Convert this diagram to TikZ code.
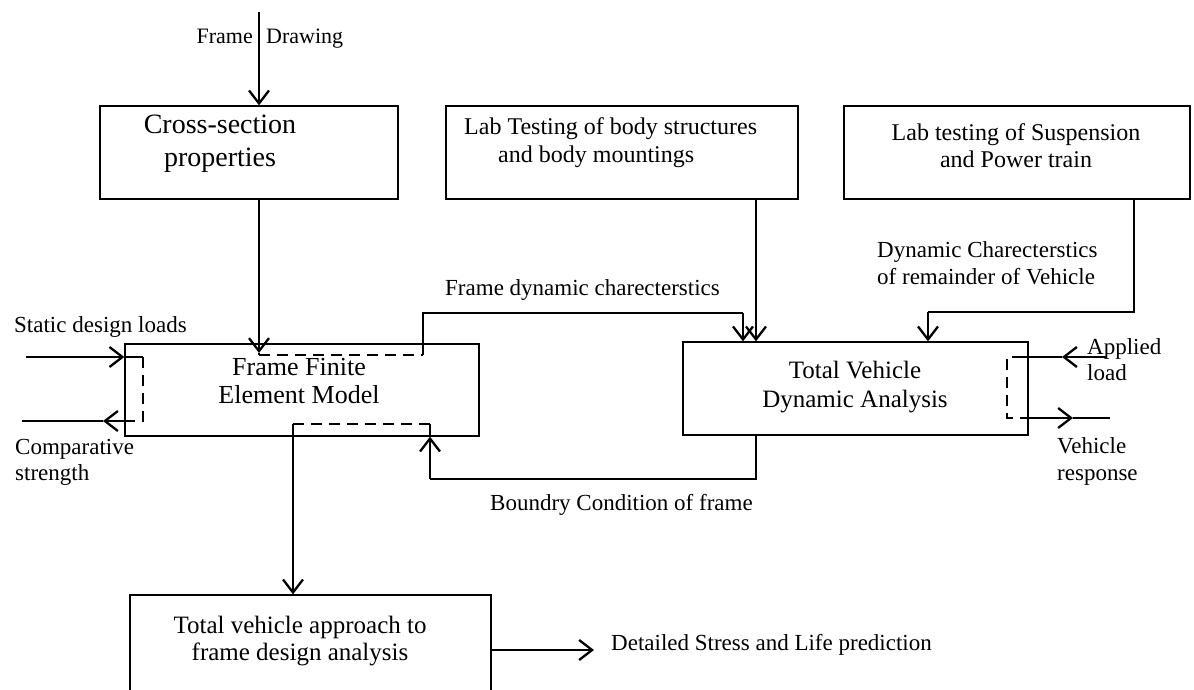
\documentclass[tikz,border=0pt]{standalone}
\usepackage{fontspec}
\setmainfont{Liberation Serif}
\usetikzlibrary{arrows.meta}
\begin{document}
\begin{tikzpicture}[x=1pt,y=-1pt,
  box/.style={draw, line width=1.3pt, inner sep=0pt},
  conn/.style={line width=2.3pt},
  dashconn/.style={line width=2.3pt, dash pattern=on 11pt off 7pt},
  arr/.style={conn,-{Straight Barb[length=13pt,width=20pt]}},
  txt/.style={inner sep=0pt, align=center},
  lbl/.style={inner sep=0pt, align=left, anchor=west, font=\fontsize{23}{26}\selectfont}]
\useasboundingbox (0,0) rectangle (1194,690);

% boxes
\node[box, minimum width=298pt, minimum height=93pt] (cs)  at (249,152.5) {};
\node[box, minimum width=352pt, minimum height=93pt] (lab) at (622,152.5) {};
\node[box, minimum width=346pt, minimum height=93pt] (sus) at (1017,152.5) {};
\node[box, minimum width=354pt, minimum height=92pt] (fe)  at (302,390) {};
\node[box, minimum width=345pt, minimum height=93pt] (tv)  at (855.5,388.5) {};
\node[box, minimum width=361pt, minimum height=110pt] (out) at (310.5,650) {};

% box texts
\node[txt, font=\fontsize{28}{33}\selectfont] (cstext) at (220,144) {Cross-section\\properties};
\node[txt, anchor=west, align=left, font=\fontsize{24}{28}\selectfont] (labtext) at (464,143)
  {Lab Testing of body structures\\\hspace*{34pt}and body mountings};
\node[txt, font=\fontsize{24}{27}\selectfont] (sustext) at (1016,146) {Lab testing of Suspension\\and Power train};
\node[txt, font=\fontsize{26}{28}\selectfont] (fetext) at (299,381) {Frame Finite\\Element Model};
\node[txt, font=\fontsize{25}{29}\selectfont] (tvtext) at (855,387.5) {Total Vehicle\\Dynamic Analysis};
\node[txt, font=\fontsize{25}{27}\selectfont] (outtext) at (300,641.5) {Total vehicle approach to\\frame design analysis};

% free labels
\node[lbl, anchor=base east, font=\fontsize{22}{26}\selectfont] (fdl) at (253,44) {Frame};
\node[lbl, anchor=base west, font=\fontsize{22}{26}\selectfont] (fdr) at (266,44) {Drawing};
\node[lbl] (sdl) at (14,327) {Static design loads};
\node[lbl] (cmp) at (15,462.5) {Comparative\\strength};
\node[lbl] (apl) at (1087,360) {Applied\\load};
\node[lbl, font=\fontsize{23}{27}\selectfont] (vrs) at (1057,461.5) {Vehicle\\response};
\node[lbl, font=\fontsize{23}{27}\selectfont] (dcr) at (877,263.5) {Dynamic Charecterstics\\of remainder of Vehicle};
\node[lbl] (fdc) at (445,290) {Frame dynamic charecterstics};
\node[lbl] (bcf) at (490,505) {Boundry Condition of frame};
\node[lbl] (dsl) at (611,645) {Detailed Stress and Life prediction};

% junction points
\coordinate (fdtop) at (259,12);
\coordinate (feTip) at (259,353);
\coordinate (feTopIn) at (259,355);
\coordinate (feTopOut) at (423,355);
\coordinate (bendA) at (423,313);
\coordinate (bendB) at (743,313);
\coordinate (labx) at (756,0);
\coordinate (susA) at (1134,312);
\coordinate (susB) at (928,312);
\coordinate (feBotL) at (293,424);
\coordinate (feBotR) at (430,424);
\coordinate (bdR) at (756,479);
\coordinate (bdL) at (430,479);
\coordinate (stStart) at (26,357);
\coordinate (stEnd) at (143,357);
\coordinate (cmpEnd) at (143,421);
\coordinate (cmpStart) at (128,421);
\coordinate (cmpTip) at (103,421);
\coordinate (cmpFree) at (22,421);
\coordinate (apFree) at (1107,357);
\coordinate (apTip) at (1062,357);
\coordinate (apIn) at (1023,357);
\coordinate (brTop) at (1007,357);
\coordinate (brBot) at (1007,418);
\coordinate (vrIn) at (1023,418);
\coordinate (vrTip) at (1073,418);
\coordinate (vrFree) at (1110,418);
\coordinate (dspTip) at (594,650);

% frame drawing input
\draw[arr] (fdtop) -- (fdtop |- cs.north);
% cross-section to frame model, and frame dynamics to vehicle model
\draw[arr] (cs.south -| fdtop) -- (feTip);
\draw[conn] (feTip) -- (feTopIn);
\draw[dashconn] (feTopIn) -- (feTopOut);
\draw[conn] (feTopOut) -- (bendA) -- (bendB);
\draw[arr] (bendB) -- (bendB |- tv.north);
% body structure tests
\draw[arr] (lab.south -| labx) -- (tv.north -| labx);
% suspension and power train tests
\draw[conn] (sus.south -| susA) -- (susA) -- (susB);
\draw[arr] (susB) -- (susB |- tv.north);
% frame model to final analysis
\draw[dashconn] (feBotL) -- (feBotR);
\draw[arr] (feBotL) -- (feBotL |- out.north);
% boundary condition feedback
\draw[conn] (tv.south -| bdR) -- (bdR) -- (bdL);
\draw[arr] (bdL) -- (bdL |- fe.south);
\draw[conn] (bdL |- fe.south) -- (feBotR);
% static loads in, comparative strength out
\draw[arr] (stStart) -- (fe.west |- stStart);
\draw[conn] (fe.west |- stStart) -- (stEnd);
\draw[dashconn] (stEnd) -- (cmpEnd) -- (cmpStart);
\draw[arr] (cmpStart) -- (cmpTip);
\draw[conn] (cmpTip) -- (cmpFree);
% applied load in, vehicle response out
\draw[arr] (apFree) -- (apTip);
\draw[conn] (apTip) -- (apIn);
\draw[dashconn] (apIn) -- (brTop) -- (brBot) -- (vrIn);
\draw[arr] (vrIn) -- (vrTip);
\draw[conn] (vrTip) -- (vrFree);
% detailed prediction output
\draw[arr] (out.east) -- (dspTip);
\end{tikzpicture}
\end{document}
